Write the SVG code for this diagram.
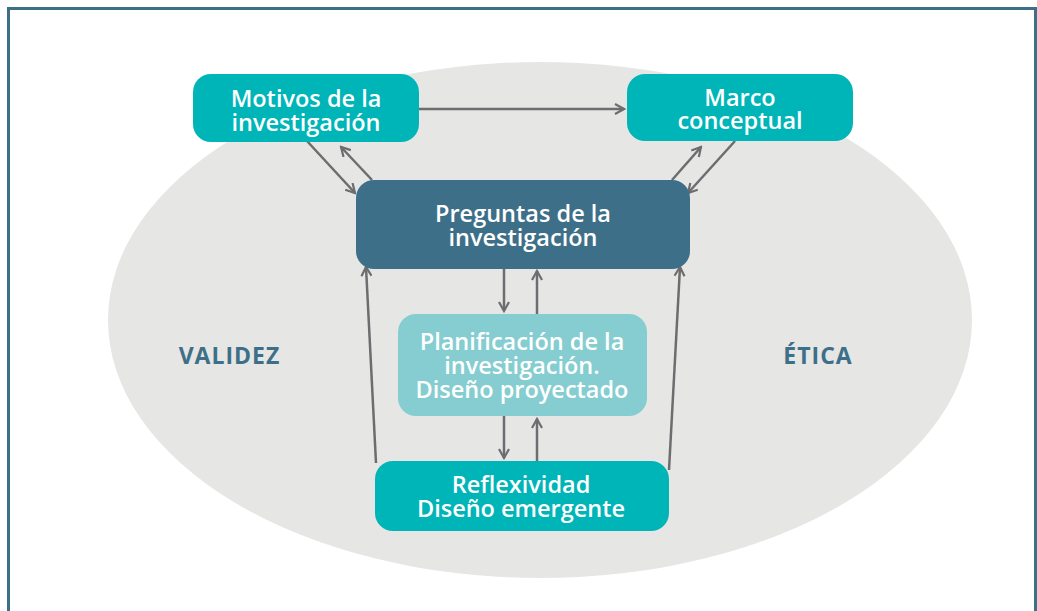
<svg xmlns="http://www.w3.org/2000/svg" width="1037" height="611" viewBox="0 0 1037 611">
<defs>
<marker id="ah" viewBox="0 0 12 12" refX="10" refY="6" markerWidth="12" markerHeight="12" markerUnits="userSpaceOnUse" orient="auto">
<path d="M1,1 L10,6 L1,11" fill="none" stroke="#6d6d70" stroke-width="2.2"/>
</marker>
<style>
.t{font-family:"Open Sans",Lato,sans-serif;font-weight:600;font-size:23.5px;fill:#fff;text-anchor:middle}
.s{font-family:"Open Sans",Lato,sans-serif;font-weight:700;font-size:23px;letter-spacing:1px;fill:#3e6f88;text-anchor:middle}
.c{fill:none;stroke:#6d6d70;stroke-width:2.5;marker-end:url(#ah)}
</style>
</defs>
<rect x="0" y="0" width="1037" height="611" fill="#fff"/>
<rect x="8.5" y="8.5" width="1027" height="620" fill="none" stroke="#3e6f88" stroke-width="3"/>
<ellipse cx="540" cy="320" rx="432" ry="258" fill="#e6e6e5"/>
<text class="s" x="229.5" y="364">VALIDEZ</text>
<text class="s" x="818" y="364">ÉTICA</text>
<g id="connectors">
<line class="c" x1="419" y1="109" x2="624" y2="109"/>
<line class="c" x1="307" y1="141" x2="355" y2="193"/>
<line class="c" x1="372" y1="180" x2="341" y2="147"/>
<line class="c" x1="672" y1="180" x2="701" y2="147"/>
<line class="c" x1="735" y1="141" x2="688" y2="193"/>
<line class="c" x1="504" y1="269" x2="504" y2="311"/>
<line class="c" x1="537" y1="314" x2="537" y2="271"/>
<line class="c" x1="504" y1="416" x2="504" y2="458"/>
<line class="c" x1="537" y1="461" x2="537" y2="419"/>
<line class="c" x1="376" y1="463" x2="366" y2="267"/>
<line class="c" x1="669" y1="470" x2="680" y2="267"/>
</g>
<g id="motivos">
<rect x="193" y="74" width="226" height="68" rx="18" fill="#00b5b8"/>
<text class="t" x="306" y="107">Motivos de la</text>
<text class="t" x="306" y="131">investigación</text>
</g>
<g id="marco">
<rect x="627" y="74" width="226" height="67" rx="18" fill="#00b5b8"/>
<text class="t" x="740" y="106">Marco</text>
<text class="t" x="740" y="129">conceptual</text>
</g>
<g id="preguntas">
<rect x="356" y="180" width="334" height="89" rx="18" fill="#3e6f88"/>
<text class="t" x="523" y="222">Preguntas de la</text>
<text class="t" x="523" y="246">investigación</text>
</g>
<g id="planificacion">
<rect x="398" y="314" width="249" height="102" rx="18" fill="#85cdd0"/>
<text class="t" x="522" y="350">Planificación de la</text>
<text class="t" x="522" y="374">investigación.</text>
<text class="t" x="522" y="398">Diseño proyectado</text>
</g>
<g id="reflexividad">
<rect x="375" y="461" width="294" height="70" rx="18" fill="#00b5b8"/>
<text class="t" x="521" y="493">Reflexividad</text>
<text class="t" x="521" y="517">Diseño emergente</text>
</g>
</svg>
